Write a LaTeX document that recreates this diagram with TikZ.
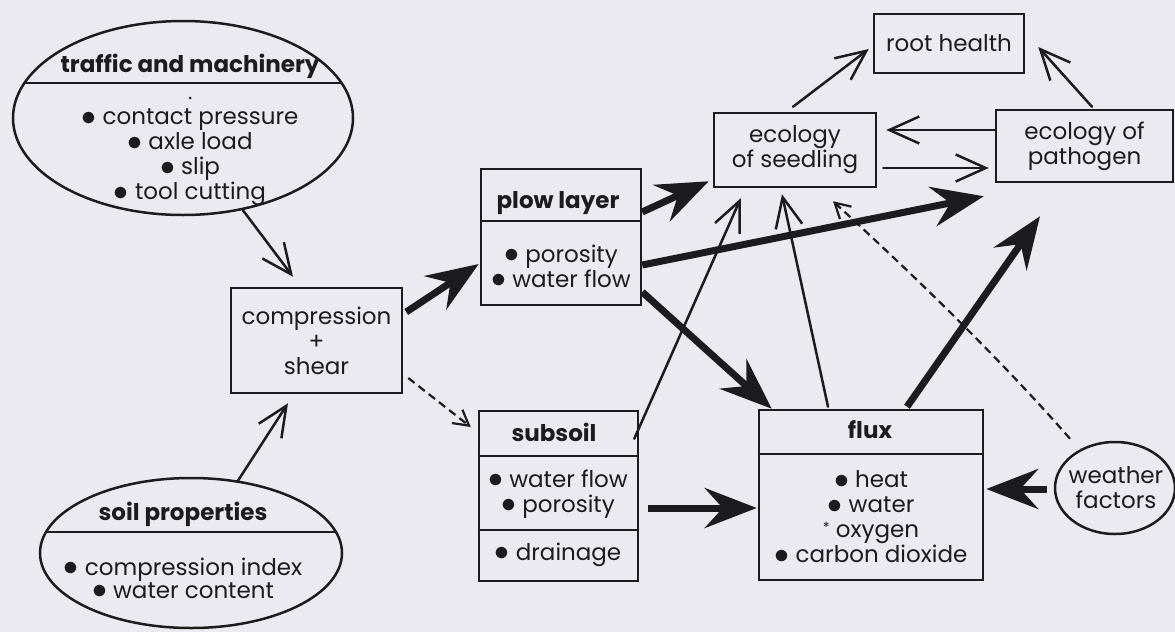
\documentclass[tikz,border=0pt]{standalone}
\usepackage{graphicx}
\usepackage{fontspec}
\setmainfont{Poppins}
\usetikzlibrary{arrows.meta,calc,shapes.geometric}
\definecolor{bg}{RGB}{234,234,240}
\definecolor{ink}{RGB}{28,28,30}
\newcommand{\bul}{\raisebox{-0.3pt}{\scalebox{1.2}{$\bullet$}}}
\begin{document}
\begin{tikzpicture}[x=1pt,y=-1pt,
  every node/.style={font=\fontsize{23}{25}\selectfont, text=ink, inner sep=0pt},
  box/.style={draw=ink, line width=2.5pt, rectangle, inner sep=0pt},
  oval/.style={draw=ink, line width=2.5pt, ellipse, inner sep=0pt},
  sepline/.style={draw=ink, line width=2.5pt},
  ttl/.style={font=\fontsize{23}{25}\selectfont\bfseries},
  openarrow/.style={draw=ink, line width=2.5pt, line cap=round, -{Straight Barb[length=30pt,width=27pt]}},
  heavy/.style={draw=ink, line width=7pt, -{Stealth[length=52pt,width=40pt,inset=18pt]}},
  dasharrow/.style={draw=ink, line width=2.2pt, dash pattern=on 8pt off 5pt, -{Straight Barb[length=15pt,width=17pt]}},
]
\fill[bg] (0,0) rectangle (1175,632);
\useasboundingbox (0,0) rectangle (1175,632);

% traffic and machinery
\node[oval, minimum width=340pt, minimum height=194pt] (traffic) at (183,118) {};
\draw[sepline] ($(traffic.center)+(-158.6,-35)$) -- ($(traffic.center)+(158.6,-35)$);
\node[ttl] (ttitle) at (190,66) {traffic and machinery};
\node[circle, fill=ink, minimum size=3pt] (tdot) at (190,98) {};
\node[align=center] (titems) at (190,157.5) {\bul{} contact pressure\\ \bul{} axle load\\ \bul{} slip\\ \bul{} tool cutting};

% soil properties
\node[oval, minimum width=302pt, minimum height=150pt] (soil) at (191,553) {};
\draw[sepline] ($(soil.center)+(-145,-21)$) -- ($(soil.center)+(145,-21)$);
\node[ttl] (stitle) at (183,514) {soil properties};
\node[align=center] (sitems) at (183,578) {\bul{} compression index\\[-2pt] \bul{} water content};

% compression + shear
\node[box, minimum width=171pt, minimum height=105pt, align=center] (comp) at (316.5,340.5) {compression\\+\\shear};

% plow layer
\node[box, minimum width=160pt, minimum height=136pt] (plow) at (561,237) {};
\draw[sepline] ($(plow.north west)+(0,53)$) -- ($(plow.north east)+(0,53)$);
\node[ttl] (ptitle) at (558,203) {plow layer};
\node[align=center] (pitems) at (561,266) {\bul{} porosity\\ \bul{} water flow};

% subsoil
\node[box, minimum width=159pt, minimum height=170pt] (sub) at (558.5,496) {};
\draw[sepline] ($(sub.north west)+(0,46)$) -- ($(sub.north east)+(0,46)$);
\draw[sepline] ($(sub.north west)+(0,120)$) -- ($(sub.north east)+(0,120)$);
\node[ttl] (subtitle) at (554,432) {subsoil};
\node[align=center] (subitems) at (558,494) {\bul{} water flow\\ \bul{} porosity};
\node (subdrain) at (558,555) {\bul{} drainage};

% flux
\node[box, minimum width=224pt, minimum height=170pt] (flux) at (871,495) {};
\draw[sepline] ($(flux.north west)+(0,45)$) -- ($(flux.north east)+(0,45)$);
\node[ttl] (fluxtitle) at (870,430) {flux};
\node[align=center] (fluxitems) at (871,517) {\bul{} heat\\ \bul{} water\\ \raisebox{5pt}{\fontsize{14}{14}\selectfont *} oxygen\\ \bul{} carbon dioxide};

% ecology boxes
\node[box, minimum width=162pt, minimum height=74pt, align=center] (seed) at (795,150) {ecology\\of seedling};
\node[box, minimum width=177pt, minimum height=72pt, align=center] (path) at (1084.5,146) {ecology of\\pathogen};
\node[box, minimum width=150pt, minimum height=59pt] (root) at (949,43.5) {root health};

% weather factors
\node[oval, minimum width=120pt, minimum height=92pt] (weather) at (1115,488) {};
\node[align=center] (wtext) at (1116,488) {weather\\factors};

% connectors
\draw[openarrow] (traffic.-57) -- ($(comp.north)+(-23.5,-10)$);
\draw[openarrow] (soil.57) -- ($(comp.south)+(-28.5,9)$);
\draw[heavy] ($(comp.east)+(3,-28.5)$) -- ($(plow.west)+(-1,27)$);
\draw[dasharrow] ($(comp.east)+(5,37.5)$) -- ($(sub.west)+(-7,-69)$);
\draw[heavy] ($(plow.east)+(0,-25)$) -- ($(seed.south west)+(-4,-7)$);
\draw[heavy] ($(plow.east)+(0,28)$) -- ($(path.south west)+(-11,13)$);
\draw[heavy] ($(plow.east)+(0,55)$) -- ($(flux.north west)+(14,0)$);
\draw[openarrow] ($(sub.north east)+(-5,29)$) -- ($(seed.south west)+(28,10)$);
\draw[heavy] ($(sub.east)+(9,12)$) -- ($(flux.west)+(-1,13)$);
\draw[openarrow] ($(flux.north)+(-43,-2)$) -- ($(seed.south)+(-13,6)$);
\draw[heavy] ($(flux.north)+(36,-2)$) -- ($(path.south)+(-44.5,33)$);
\draw[heavy] ($(weather.west)+(-7,1)$) -- ($(flux.east)+(2,-6)$);
\draw[dasharrow] ($(weather.north)+(-45,-2)$) .. controls (1010,370) and (930,290) .. ($(seed.south)+(38,13)$);
\draw[openarrow] ($(path.west)+(0,-16)$) -- ($(seed.east)+(9,-20)$);
\draw[openarrow] ($(seed.east)+(6,18)$) -- ($(path.west)+(-6,22)$);
\draw[openarrow] ($(seed.north)+(-2,-5)$) -- ($(root.west)+(-4,5.5)$);
\draw[openarrow] ($(path.north)+(7.5,-2)$) -- ($(root.east)+(13,3.5)$);
\end{tikzpicture}
\end{document}
